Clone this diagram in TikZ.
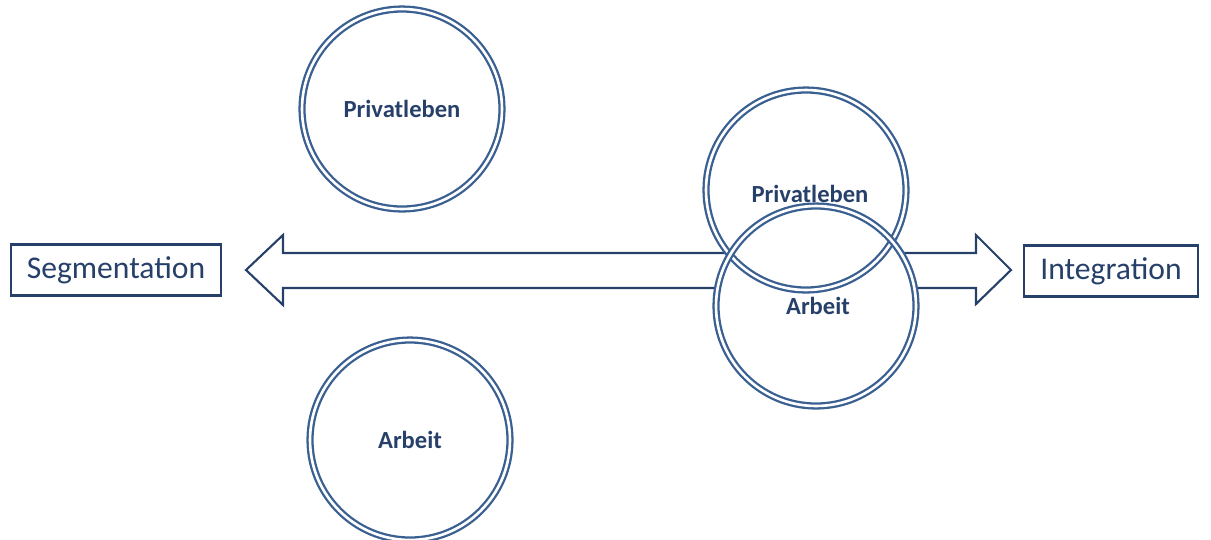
\documentclass[tikz,border=0pt]{standalone}
\usepackage{fontspec}
\setmainfont{Carlito}
\usetikzlibrary{backgrounds}
\definecolor{ringblue}{RGB}{58,95,145}
\definecolor{navy}{RGB}{38,64,105}
\begin{document}
\begin{tikzpicture}[x=0.02cm, y=-0.02cm,
    circ/.style={circle, draw=ringblue, double=white, line width=1.3pt, double distance=1.5pt,
        minimum size=4cm, inner sep=0pt, text=navy, font=\fontsize{14}{16}\selectfont\bfseries},
    lbl/.style={rectangle, draw=navy, line width=1.2pt, text=navy, minimum height=1.02cm,
        inner sep=0pt, font=\fontsize{18}{20}\selectfont}]
            \useasboundingbox (0,0) rectangle (1211,539);

            % Nodes
            \node[lbl, minimum width=4.2cm] (seg) at (116,270) {Segmentation};
            \node[lbl, minimum width=3.48cm] (int) at (1111,271) {Integration};

            \node[circ] (p1) at (402,109) {Privatleben};
            \node[circ] (a1) at (410,440) {Arbeit};

            \node[circ] (p2) at (806,190) {};
            \node[circ] (a2) at (816,306) {};
            \node[text=navy, font=\fontsize{14}{16}\selectfont\bfseries] (p2t) at (810,194) {Privatleben};
            \node[text=navy, font=\fontsize{14}{16}\selectfont\bfseries] (a2t) at (818,306) {Arbeit};

            % Arrow behind the circles
            \begin{pgfonlayer}{background}
            \draw[navy, line width=1.2pt, line join=miter]
                (246,270) -- (283,235) -- (283,253) -- (976,253) -- (976,235) -- (1011,270)
                -- (976,304) -- (976,288) -- (283,288) -- (283,305) -- cycle;
            \fill[white] (p2.center) circle[radius=2cm] (a2.center) circle[radius=2cm];
            \end{pgfonlayer}
        \end{tikzpicture}
\end{document}
